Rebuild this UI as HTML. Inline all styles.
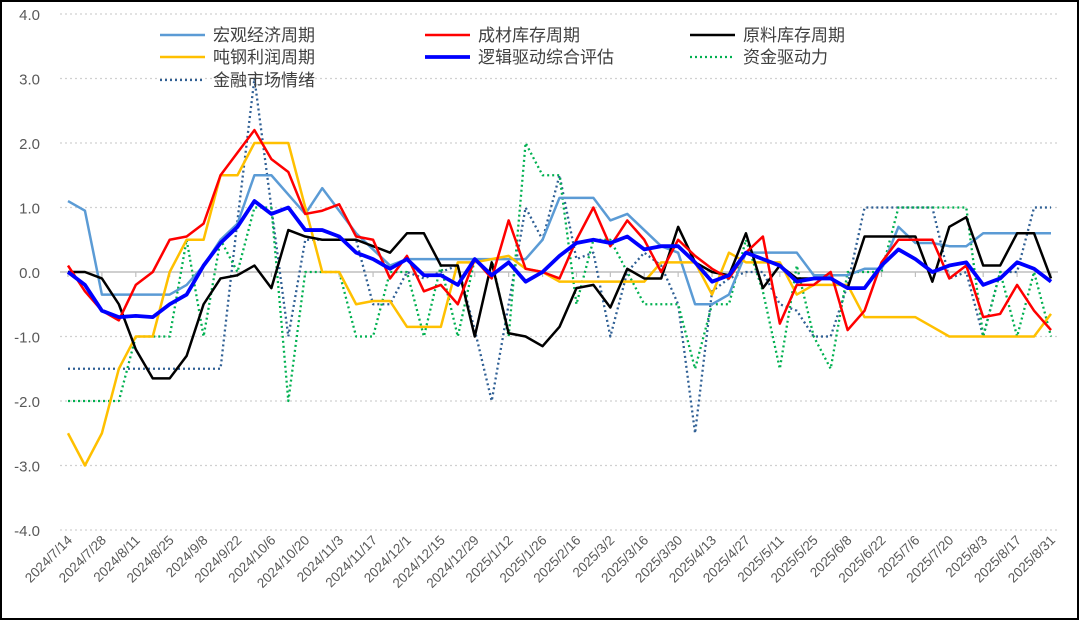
<!DOCTYPE html>
<html><head><meta charset="utf-8"><style>
body{margin:0;background:#fff;}
svg{display:block;font-family:"Liberation Sans","Noto Sans CJK SC",sans-serif;}
</style></head><body>
<svg id="chart" width="1080" height="621" viewBox="0 0 1080 621" xmlns="http://www.w3.org/2000/svg">
<rect x="1" y="1" width="1077" height="618" fill="#fff" stroke="#000" stroke-width="2"/>
<g id="grid"></g><g id="axes"></g><g id="series"></g><g id="legend"></g>
</svg>
<script>
const dates=["2024/7/14","2024/7/21","2024/7/28","2024/8/4","2024/8/11","2024/8/18","2024/8/25","2024/9/1","2024/9/8","2024/9/15","2024/9/22","2024/9/29","2024/10/6","2024/10/13","2024/10/20","2024/10/27","2024/11/3","2024/11/10","2024/11/17","2024/11/24","2024/12/1","2024/12/8","2024/12/15","2024/12/22","2024/12/29","2025/1/5","2025/1/12","2025/1/19","2025/1/26","2025/2/9","2025/2/16","2025/2/23","2025/3/2","2025/3/9","2025/3/16","2025/3/23","2025/3/30","2025/4/6","2025/4/13","2025/4/20","2025/4/27","2025/5/4","2025/5/11","2025/5/18","2025/5/25","2025/6/1","2025/6/8","2025/6/15","2025/6/22","2025/6/29","2025/7/6","2025/7/13","2025/7/20","2025/7/27","2025/8/3","2025/8/10","2025/8/17","2025/8/24","2025/8/31"];
const yTicks=[4,3,2,1,0,-1,-2,-3,-4];
const macro=[1.1,0.95,-0.35,-0.35,-0.35,-0.35,-0.35,-0.2,0.1,0.5,0.75,1.5,1.5,1.2,0.9,1.3,0.95,0.6,0.35,0.1,0.2,0.2,0.2,0.2,0.2,0.2,0.2,0.2,0.5,1.15,1.15,1.15,0.8,0.9,0.65,0.4,0.3,-0.5,-0.5,-0.35,0.3,0.3,0.3,0.3,-0.05,-0.05,-0.05,0.05,0.05,0.7,0.45,0.45,0.4,0.4,0.6,0.6,0.6,0.6,0.6];
const product=[0.1,-0.3,-0.6,-0.75,-0.2,0,0.5,0.55,0.75,1.5,1.85,2.2,1.75,1.55,0.9,0.95,1.05,0.55,0.5,-0.1,0.25,-0.3,-0.2,-0.5,0.2,-0.1,0.8,0.05,0,-0.1,0.5,1.0,0.4,0.8,0.5,0,0.5,0.25,0.05,-0.1,0.3,0.55,-0.8,-0.2,-0.2,0,-0.9,-0.6,0.15,0.5,0.5,0.5,-0.1,0.1,-0.7,-0.65,-0.2,-0.6,-0.9];
const raw=[0,0,-0.1,-0.5,-1.2,-1.65,-1.65,-1.3,-0.5,-0.1,-0.05,0.1,-0.25,0.65,0.55,0.5,0.5,0.5,0.4,0.3,0.6,0.6,0.1,0.1,-1.0,0.15,-0.95,-1.0,-1.15,-0.85,-0.25,-0.2,-0.55,0.05,-0.1,-0.1,0.7,0.15,0,-0.05,0.6,-0.25,0.1,-0.1,-0.1,-0.1,-0.25,0.55,0.55,0.55,0.55,-0.15,0.7,0.85,0.1,0.1,0.6,0.6,-0.1];
const profit=[-2.5,-3.0,-2.5,-1.5,-1.0,-1.0,0,0.5,0.5,1.5,1.5,2.0,2.0,2.0,1.0,0,0,-0.5,-0.45,-0.45,-0.85,-0.85,-0.85,0.15,0.15,0.2,0.25,0.05,0,-0.15,-0.15,-0.15,-0.15,-0.15,-0.15,0.15,0.15,0.15,-0.35,0.3,0.15,0.15,0.15,-0.35,-0.2,-0.2,-0.2,-0.7,-0.7,-0.7,-0.7,-0.85,-1.0,-1.0,-1.0,-1.0,-1.0,-1.0,-0.65];
const logic=[0,-0.2,-0.6,-0.7,-0.68,-0.7,-0.5,-0.35,0.1,0.45,0.7,1.1,0.9,1.0,0.65,0.65,0.55,0.3,0.2,0.05,0.2,-0.05,-0.05,-0.2,0.2,-0.05,0.15,-0.15,0,0.25,0.45,0.5,0.45,0.55,0.35,0.4,0.4,0.15,-0.15,-0.05,0.3,0.2,0.1,-0.15,-0.1,-0.1,-0.25,-0.25,0.1,0.35,0.2,0,0.1,0.15,-0.2,-0.1,0.15,0.05,-0.15];
const fund=[-2,-2,-2,-2,-1,-1,-1,0.5,-1,0.5,0,1.0,1.0,-2.0,0,0,0,-1,-1,0,0,-1,0.1,-1,0.2,0.2,-1,2.0,1.5,1.5,-0.5,0.5,0.5,0,-0.5,-0.5,-0.5,-1.5,-0.5,-0.5,0.5,-0.3,-1.5,0.1,-1.0,-1.5,0,0,0,1,1,1,1,1,-1,0,-1,0,-1];
const market=[-1.5,-1.5,-1.5,-1.5,-1.5,-1.5,-1.5,-1.5,-1.5,-1.5,0.8,3.0,1.0,-1.0,0.5,0.5,0.5,0.5,-0.5,-0.5,0,-0.1,0,0.1,-0.9,-2.0,-0.5,1.0,0.5,1.5,0.2,0.3,-1.0,0,0.3,0.1,-0.5,-2.5,-0.3,-0.1,0,0,-0.5,-0.6,-1.0,-1.0,-0.2,1,1,1,1,1,-0.1,0,-1,0,0,1,1];

const NS="http://www.w3.org/2000/svg";
const X0=68,X1=1051,YT=14,YB=530;
function xs(i){return X0+(X1-X0)*i/(dates.length-1);}
function ys(v){return YT+(4-v)*(YB-YT)/8;}
function mk(t,a,p){const e=document.createElementNS(NS,t);for(const k in a)e.setAttribute(k,a[k]);p.appendChild(e);return e;}
const grid=document.getElementById('grid'),axes=document.getElementById('axes'),ser=document.getElementById('series'),leg=document.getElementById('legend');
yTicks.forEach(v=>{
  if(v!==0){const g=mk('line',{x1:60,x2:1058,y1:ys(v),y2:ys(v),stroke:'#d0d0d0','stroke-width':1.2,'stroke-dasharray':'2 3'},grid);
  
  }
  const t=mk('text',{x:40,y:ys(v)+6,'text-anchor':'end','font-size':15,fill:'#595959'},axes);
  t.textContent=v.toFixed(1);
  
  
});
const ax=mk('line',{x1:60,x2:1058,y1:ys(0),y2:ys(0),stroke:'#bfbfbf','stroke-width':1.5},axes);


dates.forEach((d,i)=>{
  if(i%2)return;
  const tk=mk('line',{x1:xs(i),x2:xs(i),y1:ys(0),y2:ys(0)+5,stroke:'#bfbfbf','stroke-width':1.2},axes);
  
  
  const t=mk('text',{x:xs(i)+5,y:541,'text-anchor':'end','font-size':13.5,fill:'#595959',transform:`rotate(-45 ${xs(i)+5} 541)`},axes);
  t.textContent=d;
  
  
});
const series=[
 {n:'宏观经济周期',d:macro,c:'#5B9BD5',w:2.5,dash:null,name:'macro-cycle-line'},
 {n:'成材库存周期',d:product,c:'#FF0000',w:2.5,dash:null,name:'product-inventory-line'},
 {n:'原料库存周期',d:raw,c:'#000000',w:2.5,dash:null,name:'raw-inventory-line'},
 {n:'吨钢利润周期',d:profit,c:'#FFC000',w:2.5,dash:null,name:'steel-profit-line'},
 {n:'逻辑驱动综合评估',d:logic,c:'#0000FF',w:3.8,dash:null,name:'logic-composite-line'},
 {n:'资金驱动力',d:fund,c:'#00B050',w:2.3,dash:'2 3',name:'fund-driver-line'},
 {n:'金融市场情绪',d:market,c:'#2F5F94',w:2.3,dash:'2 3',name:'market-sentiment-line'}
];
const order=[6,5,0,3,2,1,4];
order.forEach(k=>{const s=series[k];
  const p=mk('polyline',{points:s.d.map((v,i)=>xs(i)+','+ys(v)).join(' '),fill:'none',stroke:s.c,'stroke-width':s.w,'stroke-linejoin':'round'},ser);
  if(s.dash)p.setAttribute('stroke-dasharray',s.dash);
  
  
});
const lpos=[[160,35],[425,35],[690,35],[160,57],[425,57],[690,57],[160,80]];
series.forEach((s,k)=>{const [lx,ly]=lpos[k];
  const g=mk('g',{},leg);
  
  
  const l=mk('line',{x1:lx,x2:lx+45,y1:ly,y2:ly,stroke:s.c,'stroke-width':s.w},g);
  if(s.dash)l.setAttribute('stroke-dasharray',s.dash);
  const t=mk('text',{x:lx+53,y:ly+6,'font-size':17,fill:'#404040'},g);
  t.textContent=s.n;
});
</script>
</body></html>
